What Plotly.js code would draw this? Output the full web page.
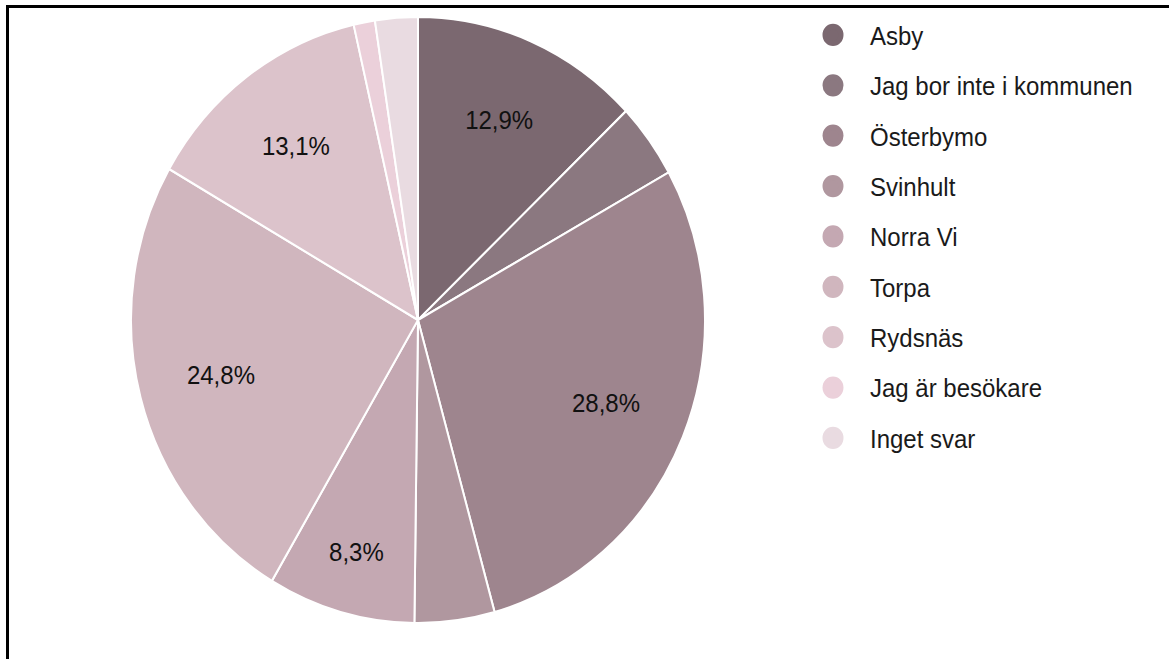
<!DOCTYPE html>
<html>
<head>
<meta charset="utf-8">
<script src="https://cdn.plot.ly/plotly-3.0.1.min.js"></script>
<style>
  html, body { margin: 0; padding: 0; background: #fff; }
  #wrap { position: relative; width: 1169px; height: 659px; overflow: hidden; background: #fff; }
  #chart { position: absolute; left: 0; top: 0; width: 1169px; height: 624px;
           transform: scaleY(1.05609); transform-origin: 0 0; }
  #frame { position: absolute; left: 6px; top: 5px; width: 1200px; height: 700px;
           border-top: 3px solid #000; border-left: 3px solid #000; pointer-events: none; }
</style>
</head>
<body>
<div id="wrap">
  <div id="chart"></div>
  <div id="frame"></div>
</div>
<script>
const labels = ["Asby", "Jag bor inte i kommunen", "Österbymo", "Svinhult", "Norra Vi",
                "Torpa", "Rydsnäs", "Jag är besökare", "Inget svar"];
const values = [12.9, 4.0, 28.8, 4.5, 8.3, 24.8, 13.1, 1.2, 2.4];
const colors = ["#7b6870", "#8b7880", "#9e858e", "#b0979f", "#c4a8b2",
                "#d0b6be", "#dcc3cb", "#ebd0da", "#e9dbe1"];

const textLabels = values.map(v => v >= 8 ? v.toFixed(1).replace('.', ',') + '%' : '');

const W = 1169, H = 624;   // drawn height; the page stretches it vertically to 659 like the reference
const pieDomain = { x: [131 / W, 705 / W], y: [1 - 590 / H, 1 - 16 / H] };
const fontFam = 'Liberation Sans, Arial, sans-serif';

// Coloured slices
const pie = {
  type: 'pie',
  labels: labels,
  values: values,
  textinfo: 'none',
  sort: false,
  direction: 'clockwise',
  rotation: 0,
  marker: { colors: colors, line: { color: '#ffffff', width: 2 } },
  showlegend: false,
  hoverinfo: 'label+percent',
  domain: pieDomain
};

// Transparent ring carrying the percentage labels (placed further out like the reference)
const labelPie = {
  type: 'pie',
  labels: labels,
  values: values,
  text: textLabels,
  textinfo: 'text',
  textposition: 'inside',
  insidetextorientation: 'horizontal',
  hole: 0.42,
  sort: false,
  direction: 'clockwise',
  rotation: 0,
  marker: { colors: labels.map(() => 'rgba(0,0,0,0)'), line: { width: 0 } },
  textfont: { family: fontFam, size: 24, color: '#111111' },
  showlegend: false,
  hoverinfo: 'skip',
  domain: pieDomain
};

const legendTraces = labels.map((name, i) => ({
  type: 'scatter',
  mode: 'markers',
  x: [null], y: [null],
  name: name,
  legendgroup: 'g' + i,
  marker: { color: colors[i], size: 16, symbol: 'circle', line: { color: colors[i], width: 5 } },
  showlegend: true,
  hoverinfo: 'skip'
}));

const layout = {
  width: W,
  height: H,
  margin: { l: 0, r: 0, t: 0, b: 0 },
  paper_bgcolor: '#ffffff',
  plot_bgcolor: 'rgba(0,0,0,0)',
  xaxis: { visible: false, domain: [0.99, 1] },
  yaxis: { visible: false, domain: [0.99, 1] },
  showlegend: true,
  legend: {
    x: 796 / W, xanchor: 'left',
    y: 1 - 11 / H, yanchor: 'top',
    font: { family: fontFam, size: 24, color: '#1a1a1a' },
    itemwidth: 64,
    tracegroupgap: 13.5,
    bgcolor: 'rgba(0,0,0,0)',
    borderwidth: 0
  }
};

Plotly.newPlot('chart', [pie, labelPie].concat(legendTraces), layout, { displayModeBar: false, staticPlot: true });
</script>
</body>
</html>
